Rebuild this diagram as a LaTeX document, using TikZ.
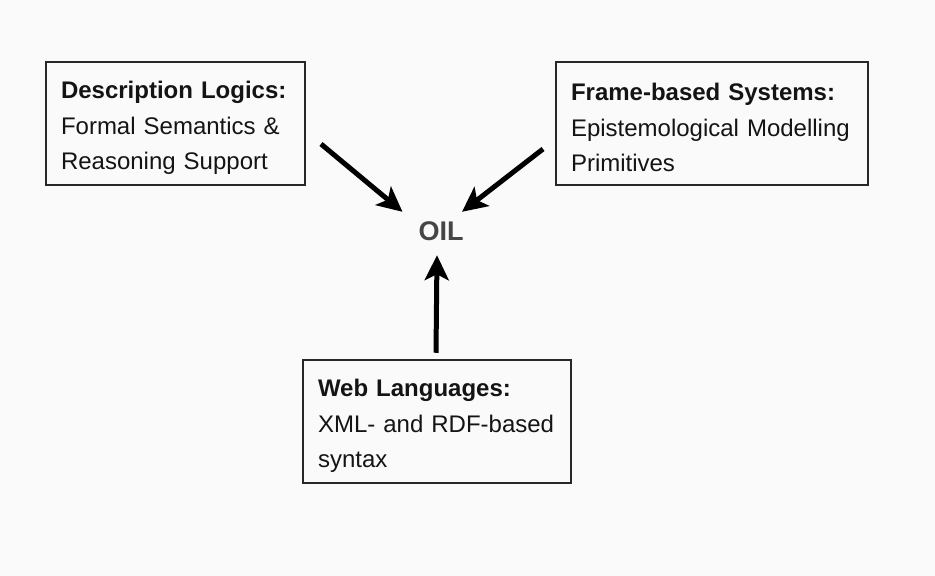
\documentclass[tikz,border=0pt]{standalone}
\usepackage{fontspec}
\setmainfont{Liberation Sans}
\usetikzlibrary{arrows.meta}
\definecolor{bgcol}{RGB}{250,250,250}
\definecolor{boxline}{RGB}{40,40,40}
\definecolor{txtcol}{RGB}{20,20,20}
\definecolor{oilcol}{RGB}{70,70,70}
\tikzset{
  infobox/.style={draw=boxline, line width=2.5pt, rectangle, align=left,
    inner xsep=15pt, inner ysep=0pt, minimum height=123pt, text=txtcol,
    font=\fontsize{24}{35.5}\selectfont},
  oiltext/.style={inner sep=0pt, minimum height=38pt, text=oilcol,
    font=\fontsize{27}{30}\selectfont\bfseries},
  bigarrow/.style={line width=5pt, draw=black,
    -{Stealth[length=25pt,width=24pt,inset=6pt]}}
}
\begin{document}
\begin{tikzpicture}[x=1pt,y=-1pt]
\fill[bgcol] (0,0) rectangle (935,576);
\useasboundingbox (0,0) rectangle (935,576);

\node[infobox, text width=229pt] (dl) at (175.5,123.5)
  {\rule{0pt}{26pt}\textbf{Description Logics:}\\Formal Semantics \&\\Reasoning Support};
\node[infobox, text width=282pt] (fb) at (712,123.5)
  {\rule{0pt}{26pt}\textbf{Frame-based Systems:}\\Epistemological Modelling\\Primitives};
\node[infobox, text width=238pt] (web) at (437,421.5)
  {\rule{0pt}{26pt}\textbf{Web Languages:}\\XML- and RDF-based\\syntax};

\node[oiltext] (oil) at (441,231) {OIL};

\coordinate (s1) at (321,144);
\coordinate (s2) at (543,149);
\coordinate (s3) at ([xshift=-1pt,yshift=6pt]web.north);

\draw[bigarrow] (s1) -- ([xshift=-38.5pt]oil.north);
\draw[bigarrow] (s2) -- ([xshift=21pt]oil.north);
\draw[bigarrow] (s3) -- ([xshift=-4pt,yshift=-5pt]oil.south);
\end{tikzpicture}
\end{document}
